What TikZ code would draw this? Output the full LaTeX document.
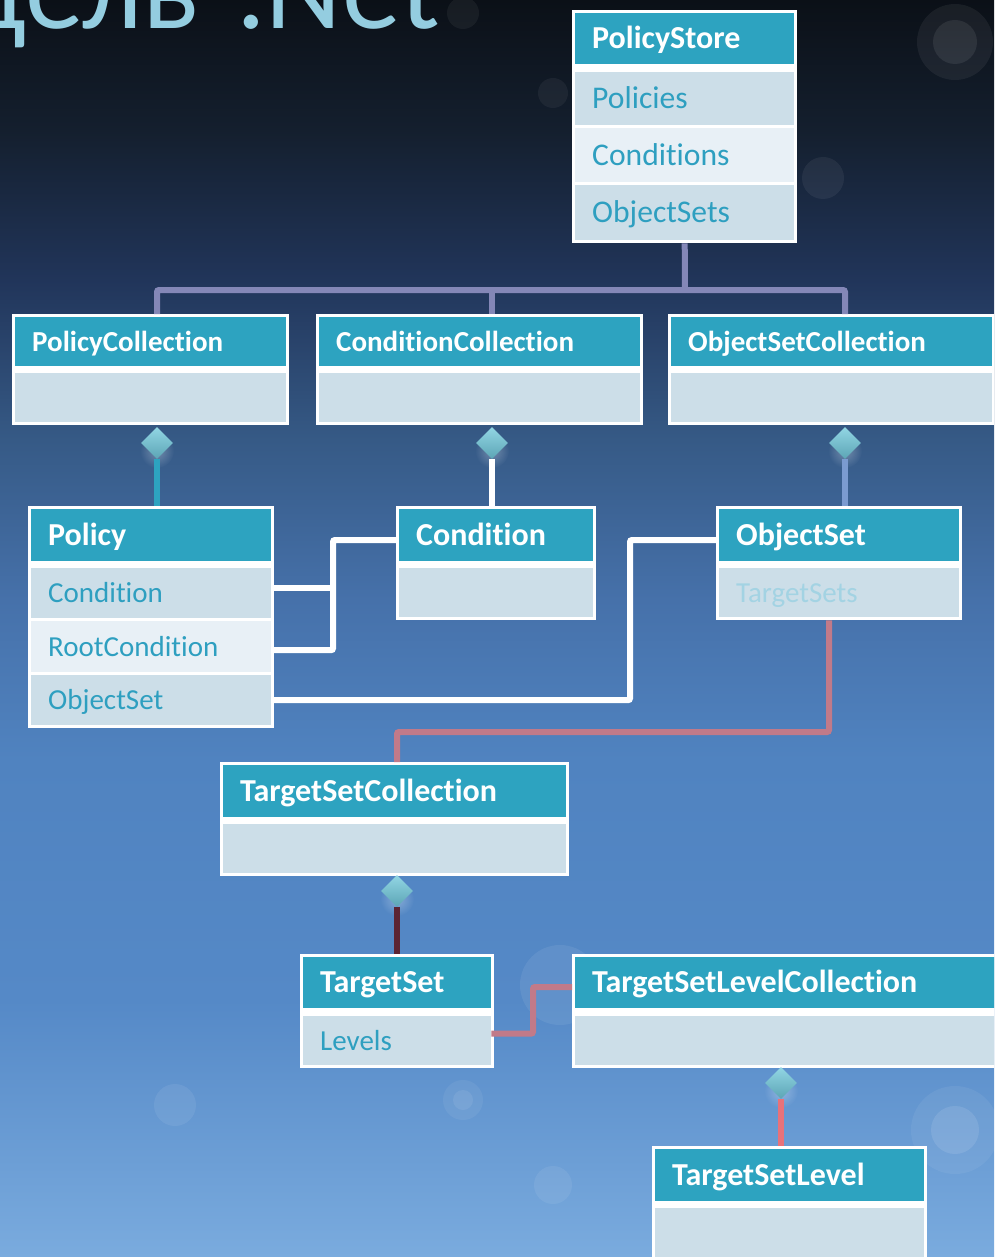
\documentclass[tikz,border=0pt]{standalone}
\usepackage{fontspec}
\setmainfont{Carlito}[Ligatures=NoCommon]
\usetikzlibrary{shapes.geometric,fadings,calc}

% background ramp, top to bottom
\definecolor{bgA}{HTML}{0B1017}
\definecolor{bgB}{HTML}{141F2E}
\definecolor{bgC}{HTML}{21355A}
\definecolor{bgD}{HTML}{365A86}
\definecolor{bgE}{HTML}{4671AA}
\definecolor{bgF}{HTML}{5083C0}
\definecolor{bgG}{HTML}{5589C7}
\definecolor{bgH}{HTML}{7AABDE}
% class boxes
\definecolor{headc}{HTML}{2DA3C0}
\definecolor{rowc}{HTML}{CCDEE8}
\definecolor{rowlc}{HTML}{E8F0F6}
\definecolor{rowtext}{HTML}{2E9FC0}
\definecolor{fadetext}{HTML}{A3D3E3}
\definecolor{titlec}{HTML}{94CDE0}
% connectors
\definecolor{treec}{HTML}{8487B7}
\definecolor{pinkc}{HTML}{C17A89}
\definecolor{redc}{HTML}{E8727A}
\definecolor{maroonc}{HTML}{5C2433}
\definecolor{bluec}{HTML}{7B9BD0}
\definecolor{diatop}{HTML}{92D6E4}
\definecolor{diabot}{HTML}{5CA5B5}

\pgfdeclareverticalshading{bgshade}{100bp}{%
  color(0bp)=(bgH); color(25bp)=(bgH); color(35.22bp)=(bgG);
  color(44.77bp)=(bgF); color(51.13bp)=(bgE); color(57.5bp)=(bgD);
  color(63.86bp)=(bgC); color(69.83bp)=(bgB); color(75bp)=(bgA);
  color(100bp)=(bgA)}

\tikzfading[name=glow, inner color=transparent!0, outer color=transparent!100]

% one rectangular cell of a class box: style, name, x1, y1, x2, y2, text
\newcommand\umlcell[7]{%
  \pgfmathsetmacro\cellw{#5-#3}%
  \pgfmathsetmacro\cellh{#6-#4}%
  \pgfmathsetmacro\celltw{max(#5-#3-34,1)}%
  \node[#1, anchor=north west, minimum width=\cellw pt, minimum height=\cellh pt,
        text width=\celltw pt] (#2) at (#3,#4) {#7};}

\tikzset{
  cellbase/.style={inner xsep=17pt, inner ysep=0pt, align=left, draw=none,
    text height=19pt, text depth=0pt, font=\fontsize{29}{30}\selectfont},
  classframe/.style={cellbase, fill=white},
  classhead/.style={cellbase, fill=headc, text=white,
    font=\fontsize{29}{30}\selectfont\bfseries},
  bighead/.style={classhead, text height=20.5pt,
    font=\fontsize{32}{33}\selectfont\bfseries},
  attrrow/.style={cellbase, fill=rowc, text=rowtext},
  attrrowlt/.style={attrrow, fill=rowlc},
  attrbig/.style={text height=20.3pt, font=\fontsize{31.6}{33}\selectfont},
  attrfade/.style={attrrow, text=fadetext},
  link/.style={line width=6pt},
  dia/.style={diamond, inner sep=0pt, minimum width=32pt, minimum height=32pt,
    top color=diatop, bottom color=diabot, draw=none},
  bokeh/.style={white, opacity=#1},
}

\begin{document}
\begin{tikzpicture}[x=1pt, y=-1pt]
\useasboundingbox (0,0) rectangle (994,1257);
\clip (0,0) rectangle (994,1257);

% backdrop
\shade[shading=bgshade] (0,0) rectangle (994,1257);
\fill[bokeh=.06] (955,42) circle (38);
\fill[bokeh=.08] (955,42) circle (22);
\fill[bokeh=.06] (823,178) circle (21);
\fill[bokeh=.05] (553,93) circle (15);
\fill[bokeh=.05] (463,13) circle (16);
\fill[bokeh=.07] (175,1105) circle (21);
\fill[bokeh=.06] (463,1100) circle (20);
\fill[bokeh=.08] (463,1100) circle (10);
\fill[bokeh=.07] (553,1185) circle (19);
\fill[bokeh=.06] (955,1130) circle (44);
\fill[bokeh=.10] (955,1130) circle (24);
\fill[bokeh=.07] (560,985) circle (40);

% heading
\node[anchor=base east, inner sep=0pt, text=titlec,
      font=\fontsize{118}{118}\selectfont] (title) at (440,29) {Модель\kern12pt{} .Net};

% PolicyStore
\umlcell{classframe}{ps}{572}{10}{797}{243}{}
\umlcell{bighead}{ps-h}{575}{13}{794}{64}{PolicyStore}
\umlcell{attrrow,attrbig}{ps-r1}{575}{72}{794}{125}{Policies}
\umlcell{attrrowlt,attrbig}{ps-r2}{575}{128}{794}{182}{Conditions}
\umlcell{attrrow,attrbig}{ps-r3}{575}{185}{794}{240}{ObjectSets}

% collections
\umlcell{classframe}{pc}{12}{314}{289}{425}{}
\umlcell{classhead}{pc-h}{15}{317}{286}{366}{PolicyCollection}
\umlcell{attrrow}{pc-r1}{15}{373}{286}{422}{}

\umlcell{classframe}{cc}{316}{314}{643}{425}{}
\umlcell{classhead}{cc-h}{319}{317}{640}{366}{ConditionCollection}
\umlcell{attrrow}{cc-r1}{319}{373}{640}{422}{}

\umlcell{classframe}{oc}{668}{314}{995}{425}{}
\umlcell{classhead}{oc-h}{671}{317}{992}{366}{ObjectSetCollection}
\umlcell{attrrow}{oc-r1}{671}{373}{992}{422}{}

% Policy
\umlcell{classframe}{po}{28}{506}{274}{728}{}
\umlcell{bighead}{po-h}{31}{509}{271}{561}{Policy}
\umlcell{attrrow}{po-r1}{31}{568}{271}{618}{Condition}
\umlcell{attrrowlt}{po-r2}{31}{621}{271}{672}{RootCondition}
\umlcell{attrrow}{po-r3}{31}{675}{271}{725}{ObjectSet}

% Condition
\umlcell{classframe}{co}{396}{506}{596}{620}{}
\umlcell{bighead}{co-h}{399}{509}{593}{561}{Condition}
\umlcell{attrrow}{co-r1}{399}{568}{593}{617}{}

% ObjectSet
\umlcell{classframe}{os}{716}{506}{962}{620}{}
\umlcell{bighead}{os-h}{719}{509}{959}{561}{ObjectSet}
\umlcell{attrfade}{os-r1}{719}{568}{959}{617}{TargetSets}

% TargetSetCollection
\umlcell{classframe}{tc}{220}{762}{569}{876}{}
\umlcell{bighead}{tc-h}{223}{765}{566}{817}{TargetSetCollection}
\umlcell{attrrow}{tc-r1}{223}{824}{566}{873}{}

% TargetSet
\umlcell{classframe}{ts}{300}{954}{494}{1068}{}
\umlcell{bighead}{ts-h}{303}{957}{491}{1008}{TargetSet}
\umlcell{attrrow}{ts-r1}{303}{1016}{491}{1065}{Levels}

% TargetSetLevelCollection
\umlcell{classframe}{tlc}{572}{954}{1010}{1068}{}
\umlcell{bighead}{tlc-h}{575}{957}{1007}{1008}{TargetSetLevelCollection}
\umlcell{attrrow}{tlc-r1}{575}{1016}{1007}{1065}{}

% TargetSetLevel
\umlcell{classframe}{tl}{652}{1146}{927}{1275}{}
\umlcell{bighead}{tl-h}{655}{1149}{924}{1201}{TargetSetLevel}
\umlcell{attrrow}{tl-r1}{655}{1208}{924}{1275}{}

% composition diamonds, with a soft halo underneath
\foreach \x/\y in {157/443, 492/443, 845/443, 397/891, 781/1083}{
  \fill[white, path fading=glow, opacity=.3] (\x,\y+8) circle (17);
}
\node[dia] (dpc) at (157,443) {};
\node[dia] (dcc) at (492,443) {};
\node[dia] (doc) at (845,443) {};
\node[dia] (dtc) at (397,891) {};
\node[dia] (dtlc) at (781,1083) {};

% PolicyStore owns the three collections
\coordinate (bus) at (685,290);
\draw[link, treec] (ps.south) -- (bus);
\draw[link, treec, rounded corners=2pt] (dpc |- pc.north) |- (bus) -| (doc |- oc.north);
\draw[link, treec] (dcc |- cc.north) -- (dcc |- bus);

% collection members
\draw[link, headc] (dpc.south) -- (dpc |- po.north);
\draw[link, white] (dcc.south) -- (dcc |- co.north);
\draw[link, bluec] (doc.south) -- (doc |- os.north);
\draw[link, maroonc] (dtc.south) -- (dtc |- ts.north);
\draw[link, redc] (dtlc.south) -- (dtlc |- tl.north);

% Policy references
\coordinate (jc) at (333,540);
\coordinate (jo) at (630,540);
\draw[link, white] ([yshift=5pt]po-r1.east) -- ([yshift=5pt]po-r1.east -| jc);
\draw[link, white, rounded corners=2pt] ([yshift=-3.5pt]po-r2.east) -| (jc) -- (jc -| co.west);
\draw[link, white, rounded corners=2pt] (po-r3.east) -| (jo) -- (jo -| os.west);

% target set links
\coordinate (jp) at (829,732);
\draw[link, pinkc, rounded corners=2pt] (jp |- os.south) -- (jp) -| (dtc |- tc.north);
\coordinate (jl) at (533,987);
\draw[link, pinkc, rounded corners=2pt] ([yshift=7pt]ts-r1.east) -| (jl) -- (jl -| tlc.west);
\end{tikzpicture}
\end{document}
